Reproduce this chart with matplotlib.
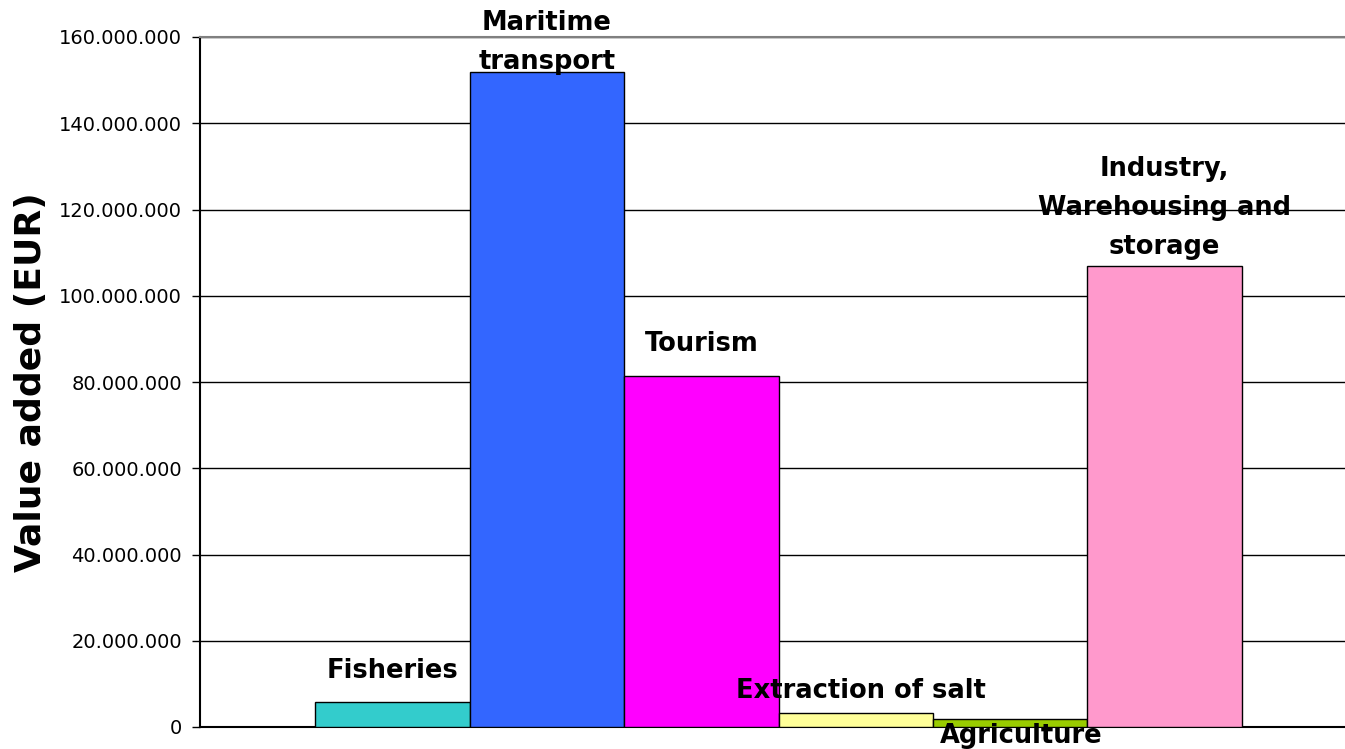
import matplotlib.pyplot as plt
import matplotlib.ticker as mticker
import numpy as np

sectors = ['Fisheries', 'Maritime\ntransport', 'Tourism', 'Extraction of salt',
           'Agriculture', 'Industry,\nWarehousing and\nstorage']
values = [5.8e6, 151.9e6, 81.4e6, 3.3e6, 1.9e6, 106.9e6]
colors = ['#33CCCC', '#3366FF', '#FF00FF', '#FFFF99', '#99CC00', '#FF99CC']

# label offsets in pixels (dx, dy from bar top), as Excel placed them
label_off = [(0, 31), (0, 29), (0, 32), (5, 22), (11, -17), (0, 58)]

fig = plt.figure(figsize=(13.45, 7.49), dpi=100)
ax = fig.add_axes([200 / 1345, 22 / 749, 1 - 200 / 1345, 690 / 749])

x = np.arange(len(values))
ax.bar(x, values, width=1.0, color=colors, edgecolor='black', linewidth=1.0, zorder=3)

for xi, v, lab, (dx, dy) in zip(x, values, sectors, label_off):
    ax.annotate(lab, (xi, v), xytext=(dx * 0.72, dy * 0.72), textcoords='offset points',
                ha='center', va='center', fontsize=18.5, fontweight='bold',
                linespacing=1.65, zorder=5, annotation_clip=False)

ax.set_xlim(-1.245, 6.167)
ax.set_ylim(0, 160e6)
ax.set_yticks(np.arange(0, 160e6 + 1, 20e6))
ax.yaxis.set_major_formatter(mticker.FuncFormatter(lambda v, p: f'{int(v):,}'.replace(',', '.')))
ax.tick_params(axis='y', length=6, width=1, labelsize=14, direction='out', pad=7)
ax.set_xticks([])
ax.grid(axis='y', color='black', linewidth=1.0, zorder=0)

ax.spines['right'].set_visible(False)
ax.spines['top'].set_color('#808080')
ax.spines['top'].set_linewidth(1.5)
ax.spines['left'].set_linewidth(1.5)
ax.spines['bottom'].set_linewidth(1.5)

ax.set_ylabel('Value added (EUR)', fontsize=26, fontweight='bold', labelpad=8)

fig.savefig('out.png', dpi=100)
